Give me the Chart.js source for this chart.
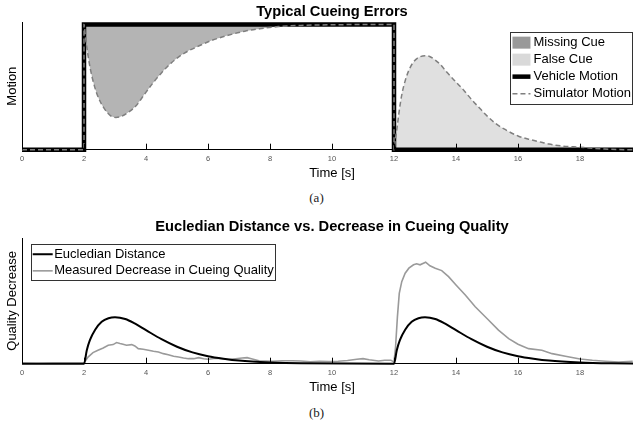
<!DOCTYPE html>
<html>
<head>
<meta charset="utf-8">
<script src="https://cdn.jsdelivr.net/npm/chart.js@4.4.0/dist/chart.umd.min.js"></script>
<style>
  body { margin: 0; background: #fff; width: 633px; height: 427px; position: relative; overflow: hidden; }
  /* the plots run a little past the right edge of the page, as in the cropped figure */
  .plot { position: absolute; left: 0; width: 642px; }
  #boxA { top: 0; height: 185px; }
  #boxB { top: 212px; height: 187px; }
  .caption { position: absolute; left: 0; width: 633px; text-align: center; font: 13px "Liberation Serif", "DejaVu Serif", serif; color: #222; }
</style>
</head>
<body>
<div class="plot" id="boxA"><canvas id="cueChart"></canvas></div>
<div class="caption" style="top:190px;">(a)</div>
<div class="plot" id="boxB"><canvas id="qualityChart"></canvas></div>
<div class="caption" style="top:405px;">(b)</div>
<script>
// tick labels shared by both plots
const timeTicks = [0, 2, 4, 6, 8, 10, 12, 14, 16, 18];

// (a) vehicle step
const vehicleTime = [0, 2, 2, 12, 12, 20];
const vehicleMotion = [0, 0, 1, 1, 0, 0];

// (a) simulator while the vehicle is up (missing cue)
const missTime = [2, 2.05, 2.16, 2.27, 2.43, 2.65, 2.86, 3.03, 3.19, 3.41, 3.68, 3.95, 4.22, 4.49, 4.81, 5.24, 5.68, 6.11, 6.65, 7.19, 7.73, 8.27, 9, 10, 11, 12];
const missMotion = [1, 0.893, 0.705, 0.571, 0.437, 0.33, 0.271, 0.257, 0.265, 0.295, 0.351, 0.442, 0.531, 0.611, 0.692, 0.772, 0.826, 0.872, 0.914, 0.947, 0.968, 0.984, 0.993, 0.998, 1, 1];

// (a) simulator after the vehicle stops (false cue)
const falseTime = [12, 12.05, 12.1, 12.18, 12.26, 12.36, 12.48, 12.6, 12.75, 13, 13.15, 13.33, 13.5, 13.7, 14, 14.25, 14.47, 14.75, 15, 15.25, 15.55, 16, 16.4, 16.75, 17, 17.4, 18, 18.8, 19.7, 20];
const falseMotion = [0, 0.09, 0.18, 0.33, 0.45, 0.55, 0.635, 0.69, 0.73, 0.75, 0.745, 0.716, 0.68, 0.62, 0.54, 0.475, 0.41, 0.335, 0.27, 0.215, 0.166, 0.11, 0.08, 0.06, 0.045, 0.03, 0.02, 0.005, 0, 0];

// (b) eucledian distance
const distTime = [0, 2, 2.09, 2.19, 2.36, 2.57, 2.79, 3, 3.33, 3.65, 4, 4.5, 5, 5.5, 6, 6.5, 7, 8, 9, 12, 12.09, 12.19, 12.36, 12.57, 12.79, 13, 13.33, 13.65, 14, 14.5, 15, 15.5, 16, 16.5, 17, 18, 19, 20];
const distValue = [0, 0, 0.107, 0.187, 0.27, 0.333, 0.362, 0.37, 0.356, 0.318, 0.267, 0.195, 0.135, 0.09, 0.06, 0.04, 0.025, 0.01, 0.003, 0, 0.107, 0.187, 0.27, 0.333, 0.362, 0.37, 0.356, 0.318, 0.267, 0.195, 0.135, 0.09, 0.06, 0.04, 0.025, 0.01, 0.003, 0];

// (b) measured decrease in cueing quality
const measTime = [0, 0.5, 1, 1.5, 2, 2.13, 2.29, 2.45, 2.62, 2.78, 2.94, 3.05, 3.16, 3.26, 3.37, 3.54, 3.64, 3.75, 3.91, 4.08, 4.24, 4.4, 4.56, 4.72, 4.89, 5.05, 5.21, 5.37, 5.54, 5.7, 5.86, 6.02, 6.24, 6.45, 6.67, 6.89, 7.1, 7.26, 7.43, 7.64, 7.86, 8.08, 8.4, 8.72, 8.99, 9.3, 9.6, 9.9, 10.2, 10.5, 10.8, 11, 11.2, 11.5, 11.7, 11.9, 12, 12.05, 12.11, 12.17, 12.25, 12.36, 12.48, 12.63, 12.73, 12.84, 12.95, 13.02, 13.16, 13.33, 13.54, 13.76, 14, 14.3, 14.62, 15, 15.37, 15.7, 16, 16.34, 16.77, 17.1, 17.53, 18, 18.4, 18.82, 19.25, 19.7];
const measValue = [0.006, 0.004, 0.006, 0.005, 0.005, 0.053, 0.088, 0.107, 0.125, 0.147, 0.152, 0.168, 0.16, 0.155, 0.147, 0.152, 0.141, 0.12, 0.115, 0.107, 0.099, 0.093, 0.08, 0.072, 0.059, 0.053, 0.045, 0.04, 0.04, 0.048, 0.04, 0.035, 0.043, 0.04, 0.035, 0.04, 0.045, 0.048, 0.037, 0.024, 0.021, 0.019, 0.024, 0.024, 0.021, 0.015, 0.02, 0.017, 0.02, 0.025, 0.035, 0.04, 0.032, 0.022, 0.027, 0.028, 0.013, 0.133, 0.373, 0.56, 0.653, 0.72, 0.76, 0.787, 0.795, 0.787, 0.8, 0.808, 0.779, 0.76, 0.741, 0.693, 0.627, 0.547, 0.453, 0.36, 0.267, 0.2, 0.155, 0.12, 0.107, 0.08, 0.059, 0.037, 0.027, 0.019, 0.013, 0.019];

const FONT = '"Liberation Sans", Arial, sans-serif';
Chart.defaults.font.family = FONT;
Chart.defaults.font.size = 13;
Chart.defaults.color = '#000';

function pts(xs, ys) {
    return xs.map((x, i) => ({ x: x, y: ys[i] }));
}

// short tick marks pointing into the plot, on the time axis
const innerTicks = {
    id: 'innerTicks',
    afterDatasetsDraw(chart) {
        const { ctx, chartArea } = chart;
        const xs = chart.scales.x;
        ctx.save();
        ctx.strokeStyle = '#000';
        ctx.lineWidth = 1;
        xs.ticks.forEach(t => {
            const px = Math.round(xs.getPixelForValue(t.value)) + 0.5;
            ctx.beginPath();
            ctx.moveTo(px, chartArea.bottom);
            ctx.lineTo(px, chartArea.bottom - 6);
            ctx.stroke();
        });
        ctx.restore();
    }
};

// legend with a frame, drawn inside the plot area
const boxLegend = {
    id: 'boxLegend',
    afterDatasetsDraw(chart, args, opts) {
        const { ctx, chartArea } = chart;
        const sets = chart.data.datasets.filter(ds => ds.label);
        ctx.save();
        ctx.font = '13px ' + FONT;
        const textW = Math.max(...sets.map(ds => ctx.measureText(ds.label).width));
        const w = 2 + opts.swatchW + opts.gap + textW + 1;
        const h = sets.length * opts.rowH + opts.padY * 2;
        const x0 = opts.alignRight ? chartArea.right - opts.offsetX - w : chartArea.left + opts.offsetX;
        const y0 = chartArea.top + opts.offsetY;
        ctx.fillStyle = '#fff';
        ctx.fillRect(x0, y0, w, h);
        ctx.strokeStyle = '#333';
        ctx.lineWidth = 1;
        ctx.strokeRect(Math.round(x0) + 0.5, Math.round(y0) + 0.5, Math.round(w), Math.round(h));
        sets.forEach((ds, i) => {
            const cy = y0 + opts.padY + opts.rowH * (i + 0.5);
            const sx = x0 + 2;
            if (ds.fill) {
                ctx.fillStyle = ds.legendColor || ds.backgroundColor;
                ctx.fillRect(sx, cy - 6, opts.swatchW, 12);
            } else {
                ctx.strokeStyle = ds.borderColor;
                ctx.lineWidth = ds.borderWidth;
                ctx.setLineDash(ds.borderDash || []);
                ctx.beginPath();
                ctx.moveTo(sx, cy);
                ctx.lineTo(sx + opts.swatchW, cy);
                ctx.stroke();
                ctx.setLineDash([]);
            }
            ctx.fillStyle = '#000';
            ctx.textBaseline = 'middle';
            ctx.fillText(ds.label, sx + opts.swatchW + opts.gap, cy);
        });
        ctx.restore();
    }
};

function timeAxis() {
    return {
        type: 'linear',
        min: 0,
        max: 20,
        afterBuildTicks: axis => { axis.ticks = timeTicks.map(v => ({ value: v })); },
        ticks: { font: { size: 7.5 }, color: '#555', padding: 4.5, maxRotation: 0, autoSkip: false },
        grid: { display: false, drawTicks: false },
        border: { display: true, color: '#000', width: 1 },
        title: { display: true, text: 'Time [s]', font: { size: 13 }, padding: { top: -2.3, bottom: 4 } }
    };
}

function valueAxis(label, max) {
    return {
        type: 'linear',
        min: 0,
        max: max,
        ticks: { display: false },
        grid: { display: false, drawTicks: false },
        border: { display: true, color: '#000', width: 1 },
        title: { display: true, text: label, font: { size: 13 }, padding: { top: 4.2, bottom: 2.2 } }
    };
}

const simulator = pts([0, 2], [0, 0]).concat(pts(missTime, missMotion), pts(falseTime, falseMotion));

new Chart(document.getElementById('cueChart'), {
    type: 'line',
    data: {
        datasets: [
            {
                label: 'Missing Cue',
                data: pts(missTime, missMotion),
                fill: { value: 1 },
                backgroundColor: '#b4b4b4',
                legendColor: '#999999',
                borderWidth: 0,
                cubicInterpolationMode: 'monotone',
                order: 3
            },
            {
                label: 'False Cue',
                data: pts(falseTime, falseMotion),
                fill: 'origin',
                backgroundColor: '#e0e0e0',
                legendColor: '#d9d9d9',
                borderWidth: 0,
                cubicInterpolationMode: 'monotone',
                order: 3
            },
            {
                label: 'Vehicle Motion',
                data: pts(vehicleTime, vehicleMotion),
                fill: false,
                borderColor: '#000',
                borderWidth: 4.5,
                borderJoinStyle: 'miter',
                tension: 0,
                order: 1
            },
            {
                label: 'Simulator Motion',
                data: simulator,
                fill: false,
                borderColor: '#7f7f7f',
                borderWidth: 1.5,
                borderDash: [5, 3],
                cubicInterpolationMode: 'monotone',
                order: 0
            }
        ]
    },
    options: {
        responsive: true,
        maintainAspectRatio: false,
        animation: false,
        events: [],
        clip: false,
        elements: { point: { radius: 0 } },
        layout: { padding: 0 },
        scales: {
            x: timeAxis(),
            y: valueAxis('Motion', 1.015)
        },
        plugins: {
            legend: { display: false },
            tooltip: { enabled: false },
            title: {
                display: true,
                text: 'Typical Cueing Errors',
                fullSize: false,
                font: { size: 14.7, weight: 'bold' },
                padding: { top: 3.2, bottom: 1.8 }
            },
            boxLegend: { alignRight: true, offsetX: 10, offsetY: 9.5, swatchW: 18, gap: 3, rowH: 17, padY: 2 }
        }
    },
    plugins: [innerTicks, boxLegend]
});

new Chart(document.getElementById('qualityChart'), {
    type: 'line',
    data: {
        datasets: [
            {
                label: 'Eucledian Distance',
                data: pts(distTime, distValue),
                fill: false,
                borderColor: '#000',
                borderWidth: 2,
                cubicInterpolationMode: 'monotone',
                order: 0
            },
            {
                label: 'Measured Decrease in Cueing Quality',
                data: pts(measTime, measValue),
                fill: false,
                borderColor: '#9a9a9a',
                borderWidth: 1.6,
                tension: 0,
                order: 1
            }
        ]
    },
    options: {
        responsive: true,
        maintainAspectRatio: false,
        animation: false,
        events: [],
        clip: false,
        elements: { point: { radius: 0 } },
        layout: { padding: 0 },
        scales: {
            x: timeAxis(),
            y: valueAxis('Quality Decrease', 1)
        },
        plugins: {
            legend: { display: false },
            tooltip: { enabled: false },
            title: {
                display: true,
                text: 'Eucledian Distance vs. Decrease in Cueing Quality',
                fullSize: false,
                font: { size: 14.7, weight: 'bold' },
                padding: { top: 6.2, bottom: 2.2 }
            },
            boxLegend: { alignRight: false, offsetX: 8.7, offsetY: 6.3, swatchW: 20, gap: 1.5, rowH: 16.6, padY: 1.6 }
        }
    },
    plugins: [innerTicks, boxLegend]
});
</script>
</body>
</html>
